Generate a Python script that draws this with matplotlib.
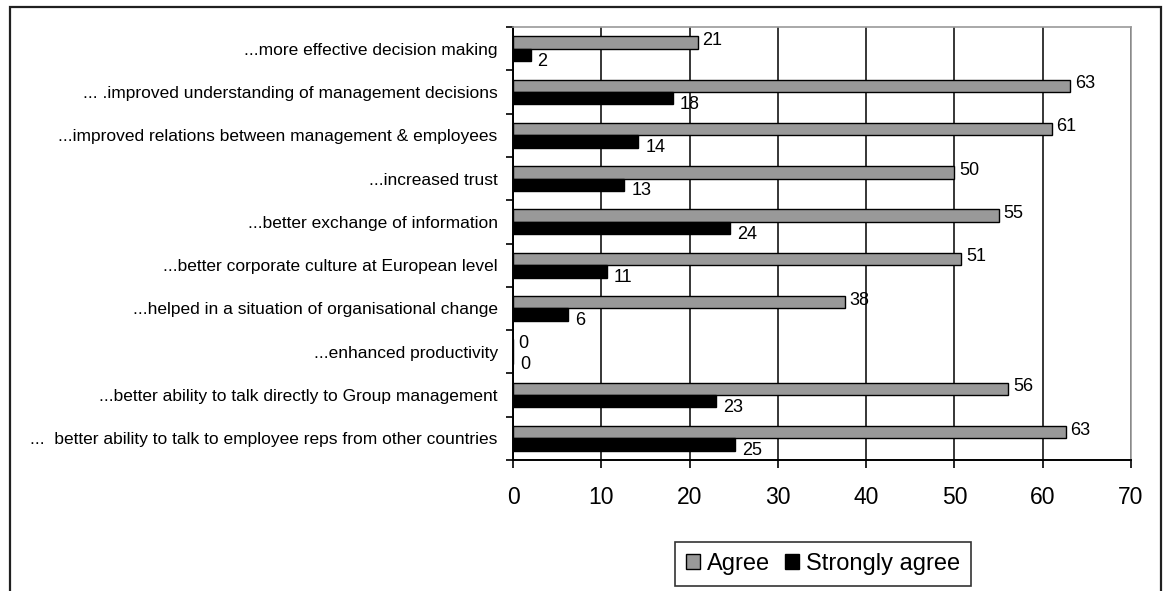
import matplotlib
matplotlib.use("Agg")
import matplotlib.pyplot as plt
import matplotlib.patches as mpatches
import numpy as np

plt.rcParams['font.family'] = ['Liberation Sans Narrow', 'Liberation Sans', 'DejaVu Sans']

# --- DATA ---
categories = [
    "...more effective decision making",
    "... .improved understanding of management decisions",
    "...improved relations between management & employees",
    "...increased trust",
    "...better exchange of information",
    "...better corporate culture at European level",
    "...helped in a situation of organisational change",
    "...enhanced productivity",
    "...better ability to talk directly to Group management",
    "...  better ability to talk to employee reps from other countries",
]
agree = [20.9, 63.1, 61.0, 50.0, 55.0, 50.8, 37.6, 0.0, 56.1, 62.6]
strongly_agree = [2.0, 18.1, 14.2, 12.6, 24.6, 10.6, 6.2, 0.0, 23.0, 25.2]
agree_labels = [21, 63, 61, 50, 55, 51, 38, 0, 56, 63]
strongly_labels = [2, 18, 14, 13, 24, 11, 6, 0, 23, 25]
x_ticks = [0, 10, 20, 30, 40, 50, 60, 70]

W, H = 1168, 591
fig = plt.figure(figsize=(W / 100, H / 100), dpi=100)
fig.patch.set_facecolor('white')

# outer chart border (bottom edge is cut off in the reference)
fig.add_artist(mpatches.Rectangle((9.5 / W, -0.05), (1161 - 9.5) / W, 1 - 7 / H + 0.05,
                                  transform=fig.transFigure, fill=False,
                                  edgecolor='#202020', linewidth=1.6))

ax = fig.add_axes([513 / W, 1 - 460 / H, (1131 - 513) / W, (460 - 27) / H])

y = np.arange(len(categories))
h = 1 / 3.5
ax.barh(y - h / 2, agree, height=h, color='#999999', edgecolor='black', linewidth=1, label='Agree', zorder=3)
ax.barh(y + h / 2, strongly_agree, height=h, color='black', edgecolor='black', linewidth=1, label='Strongly agree', zorder=3)

for i in range(len(categories)):
    ax.annotate(str(agree_labels[i]), (agree[i], y[i] - h / 2), xytext=(3.5, 1.5),
                textcoords='offset points', ha='left', va='center', fontsize=13, zorder=4)
    ax.annotate(str(strongly_labels[i]), (strongly_agree[i], y[i] + h / 2), xytext=(5, -4.5),
                textcoords='offset points', ha='left', va='center', fontsize=13, zorder=4)

ax.set_xlim(0, 70)
ax.set_ylim(len(categories) - 0.5, -0.5)
ax.set_xticks(x_ticks)
ax.set_xticklabels([str(t) for t in x_ticks], fontsize=16.5)
ax.set_yticks(y)
ax.set_yticklabels(categories, fontsize=12.5)
ax.set_yticks(np.arange(len(categories) + 1) - 0.5, minor=True)
ax.tick_params(axis='y', which='major', length=0, pad=11)
ax.tick_params(axis='y', which='minor', length=5, width=1.2, direction='out', color='black')
ax.tick_params(axis='x', length=6, width=1.2, direction='out', color='black', pad=13)

ax.grid(axis='x', color='black', linewidth=1.1, zorder=1)
for s in ['top', 'right']:
    ax.spines[s].set_color('#9a9a9a')
    ax.spines[s].set_linewidth(1.2)
for s in ['left', 'bottom']:
    ax.spines[s].set_color('black')
    ax.spines[s].set_linewidth(1.4)

leg = fig.legend(loc='center', bbox_to_anchor=(823 / W, 1 - 564 / H), ncol=2, fontsize=17,
                 frameon=True, fancybox=False, shadow=False, handlelength=0.6, handleheight=0.6,
                 handletextpad=0.3, columnspacing=0.6, borderpad=0.45, borderaxespad=0)
leg.get_frame().set_edgecolor('black')
leg.get_frame().set_linewidth(1.2)

fig.savefig('out.png', dpi=100, facecolor='white')
